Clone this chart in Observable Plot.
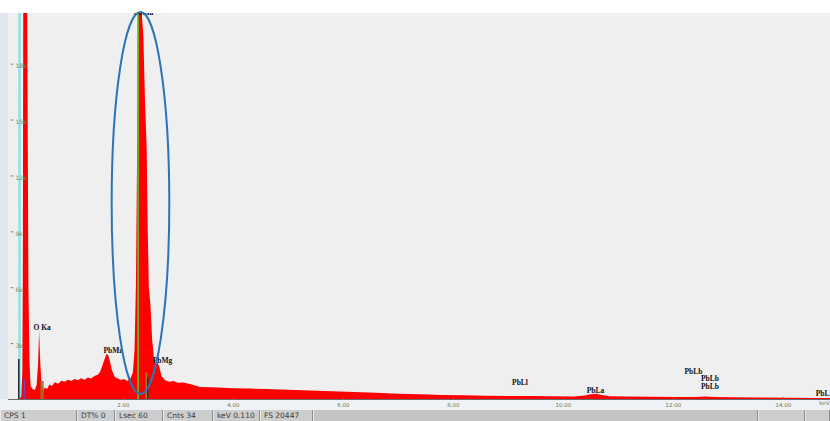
<!DOCTYPE html>
<html>
<head>
<meta charset="utf-8">
<script src="https://cdn.jsdelivr.net/npm/d3@7"></script>
<script src="https://cdn.jsdelivr.net/npm/@observablehq/plot@0.6"></script>
<style>
  html, body { margin: 0; padding: 0; background: #ffffff; }
  #wrap {
    position: relative; width: 830px; height: 421px; overflow: hidden;
    background:
      linear-gradient(to bottom, #ffffff 0 13px, transparent 13px),
      linear-gradient(to bottom, transparent 0 399px, #eef2f6 399px),
      linear-gradient(to right, #dfe7f1 0 8px, #efefef 8px);
  }
  #chart svg { display: block; }
  #status {
    position: absolute; left: 0; top: 410px; width: 830px; height: 11px;
    background: #bdbdbd; display: flex;
    font: 7.5px "DejaVu Sans", sans-serif; color: #3a3a3a; line-height: 11px;
  }
  #status div {
    box-sizing: border-box; height: 11px; padding-left: 3px; white-space: nowrap;
    background: #cdcdcd; border-right: 1px solid #8f8f8f; border-left: 1px solid #e8e8e8;
  }
  #status div.blank { background: #c4c4c4; }
</style>
</head>
<body>
<div id="wrap">
  <div id="chart"></div>
  <div id="status"></div>
</div>
<script>
// Spectrum: energy (keV) and counts per channel
const energyKeV = [
  0.00, 0.12, 0.15, 0.17, 0.18, 0.19, 0.245, 0.265, 0.28, 0.30, 0.32, 0.36, 0.40, 0.43,
  0.455, 0.475, 0.495, 0.52, 0.55, 0.58, 0.62, 0.66, 0.71, 0.76, 0.82, 0.88, 0.94, 1.00,
  1.06, 1.12, 1.18, 1.24, 1.30, 1.36, 1.42, 1.48, 1.54, 1.58, 1.62, 1.66, 1.70, 1.73,
  1.76, 1.80, 1.85, 1.90, 1.96, 2.02, 2.08, 2.14, 2.18, 2.21, 2.235, 2.26, 2.28, 2.33,
  2.345, 2.37, 2.40, 2.43, 2.45, 2.47, 2.50, 2.53, 2.56, 2.59, 2.62, 2.66, 2.70, 2.76,
  2.84, 2.92, 3.00, 3.10, 3.25, 3.40, 3.60, 3.80, 4.00, 4.30, 4.60, 5.00, 5.40, 5.80,
  6.20, 6.60, 7.00, 7.40, 7.80, 8.20, 8.60, 9.00, 9.40, 9.80, 10.20, 10.40, 10.50, 10.60,
  10.70, 10.85, 11.20, 11.60, 12.00, 12.40, 12.60, 12.75, 13.10, 13.60, 14.10, 14.60, 14.855
];
const counts = [
  0, 0, 150, 1500, 8000, 30000, 30000, 16500, 6000, 2000, 700, 520, 500, 750,
  1850, 3670, 1950, 780, 470, 620, 540, 780, 700, 900, 820, 980, 920, 1030,
  970, 1080, 1000, 1110, 1040, 1150, 1100, 1230, 1300, 1430, 1750, 2100, 2420, 2360,
  2050, 1550, 1180, 1120, 1020, 1080, 970, 1130, 1430, 2650, 6100, 14200, 30000, 30000,
  20500, 19500, 16000, 13500, 9000, 6000, 5000, 3200, 2300, 1850, 2000, 1750, 1230, 1020,
  920, 970, 870, 880, 780, 650, 630, 600, 580, 560, 540, 500, 460, 420,
  380, 330, 280, 250, 220, 200, 180, 165, 155, 145, 140, 190, 250, 285,
  220, 150, 130, 120, 110, 105, 140, 105, 90, 80, 70, 60, 55
];

// Element line markers (KLM)
const markerKeV = [0.096, 0.20, 0.505, 0.535, 2.415, 2.44];
const markerCounts = [2150, 1080, 960, 960, 1420, 1160];
const markerColors = ["#1c2833", "#7a3cc4", "#8c7a28", "#8c7a28", "#9a8a1c", "#1c2f6a"];

// Full-height cursor lines
const cursorKeV = [0.11];
const lineMarkerKeV = [2.265];

// Peak identification labels
const labelText = ["PbMz", "PbMg", "PbLl", "PbLa", "PbLb", "PbLb", "PbLb"];
const labelKeV = [1.809, 2.709, 9.209, 10.582, 12.364, 12.664, 12.664];
const labelCounts = [2630, 2090, 910, 480, 1520, 1110, 715];
const startLabelText = ["O Ka"];
const startLabelKeV = [0.364];
const startLabelCounts = [3860];
const edgeLabelText = ["PbL"];
const edgeLabelCounts = [305];
const topLabelText = ["PbMa"];
const topLabelKeV = [2.364];
const topLabelCounts = [20790];

// Axis ticks
const xTickValues = [2, 4, 6, 8, 10, 12, 14];
const xTickLabels = ["2.00", "4.00", "6.00", "8.00", "10.00", "12.00", "14.00"];
const xAxisUnit = ["keV"];
const yTickValues = [18000, 15000, 12000, 9000, 6000, 3000];
const yTickLabels = ["18k", "15k", "12k", "9k", "6k", "3k"];

// Highlight ellipse around the main peak
const ellipseCenterKeV = 2.318;
const ellipseHalfWidthKeV = 0.524;
const ellipseTopCount = 20770;
const ellipseBottomCount = 270;

const fullScale = 20720;

const spectrum = energyKeV.map((e, i) => ({e, c: counts[i]}));
const markers = markerKeV.map((e, i) => ({e, h: markerCounts[i], color: markerColors[i]}));
const labels = labelText.map((t, i) => ({t, e: labelKeV[i], c: labelCounts[i]}));
const startLabels = startLabelText.map((t, i) => ({t, e: startLabelKeV[i], c: startLabelCounts[i]}));
const edgeLabels = edgeLabelText.map((t, i) => ({t, c: edgeLabelCounts[i]}));
const topLabels = topLabelText.map((t, i) => ({t, e: topLabelKeV[i], c: topLabelCounts[i]}));
const xTicks = xTickValues.map((v, i) => ({v, t: xTickLabels[i]}));
const yTicks = yTickValues.map((v, i) => ({v, t: yTickLabels[i]}));

function ellipseMark(...args) {
  const s = args.find(a => a && typeof a.x === "function" && typeof a.y === "function");
  if (!s) return null;
  const cx = s.x(ellipseCenterKeV);
  const rx = cx - s.x(ellipseCenterKeV - ellipseHalfWidthKeV);
  const yTop = s.y(ellipseTopCount);
  const yBottom = s.y(ellipseBottomCount);
  const el = document.createElementNS("http://www.w3.org/2000/svg", "ellipse");
  el.setAttribute("cx", cx);
  el.setAttribute("cy", (yTop + yBottom) / 2);
  el.setAttribute("rx", rx);
  el.setAttribute("ry", (yBottom - yTop) / 2);
  el.setAttribute("fill", "none");
  el.setAttribute("stroke", "#2a74b8");
  el.setAttribute("stroke-width", 2);
  return el;
}

const labelFont = {fontFamily: "Liberation Serif", fontWeight: "bold", fontSize: 7.5, fill: "#111111"};
const tickFont = {fontSize: 5.5, fontFamily: "DejaVu Sans", fill: "#6f7558"};

const plot = Plot.plot({
  width: 830,
  height: 410,
  marginTop: 13,
  marginBottom: 11,
  marginLeft: 13,
  marginRight: 0,
  style: {background: "transparent", overflow: "visible"},
  x: {domain: [0, 14.855], axis: null},
  y: {domain: [0, fullScale], axis: null},
  marks: [
    Plot.ruleX(cursorKeV, {stroke: "#86e6e6", strokeWidth: 2.5}),
    Plot.areaY(spectrum, {x: "e", y: "c", fill: "#ff0000", clip: true}),
    Plot.ruleX(lineMarkerKeV, {stroke: "#4fd41c", strokeWidth: 1.5}),
    Plot.ruleX(markers, {x: "e", y1: 0, y2: "h", stroke: "color", strokeWidth: 1.5}),
    Plot.ruleY([0], {stroke: "#6a6a6a", strokeWidth: 1, insetLeft: -5}),
    Plot.ruleX(xTicks, {x: "v", y1: 0, y2: 100, stroke: "#6a6a6a"}),
    Plot.text(xTicks, {x: "v", y: 0, text: "t", dy: 5.5, ...tickFont}),
    Plot.text(xAxisUnit, {frameAnchor: "bottom-right", textAnchor: "end", dx: -1, dy: 5.5, ...tickFont}),
    Plot.ruleY(yTicks, {y: "v", x1: -0.04, x2: 0.01, stroke: "#7f8c40"}),
    Plot.text(yTicks, {x: 0, y: "v", text: "t", textAnchor: "start", dx: 2, dy: 2, fontSize: 6, fontFamily: "DejaVu Sans", fill: "#7f8c40"}),
    Plot.text(labels, {x: "e", y: "c", text: "t", ...labelFont}),
    Plot.text(startLabels, {x: "e", y: "c", text: "t", textAnchor: "start", ...labelFont}),
    Plot.text(edgeLabels, {y: "c", text: "t", frameAnchor: "right", textAnchor: "end", dx: -1, ...labelFont}),
    Plot.text(topLabels, {x: "e", y: "c", text: "t", clip: true, ...labelFont}),
    ellipseMark
  ]
});
document.getElementById("chart").appendChild(plot);

// Acquisition status bar
const statusCells = [
  {text: "CPS 1", w: 77}, {text: "DT% 0", w: 38}, {text: "Lsec 60", w: 48},
  {text: "Cnts 34", w: 50}, {text: "keV 0.110", w: 47}, {text: "FS 20447", w: 53},
  {text: "", w: 445, blank: true}, {text: "", w: 47}, {text: "", w: 25}
];
const bar = d3.select("#status");
bar.selectAll("div").data(statusCells).join("div")
  .attr("class", d => d.blank ? "blank" : null)
  .style("width", d => d.w + "px")
  .text(d => d.text);
</script>
</body>
</html>
